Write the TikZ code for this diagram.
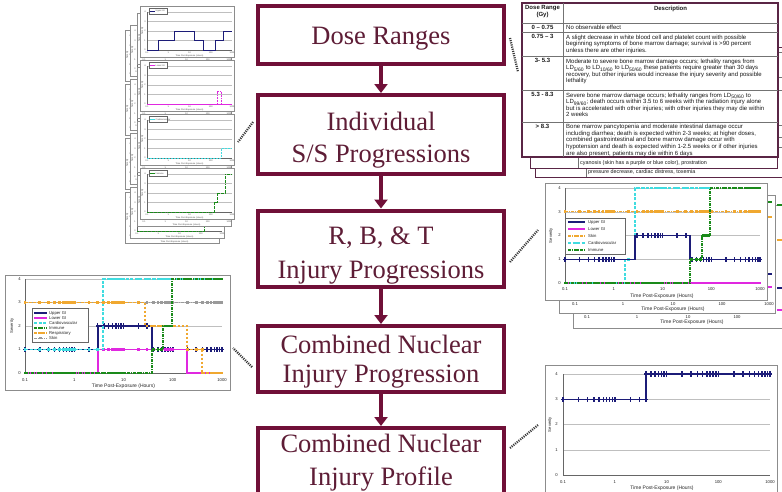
\documentclass[tikz,border=0pt]{standalone}
\usepackage{fontspec}
\setmainfont{Liberation Serif}
\setsansfont{Liberation Sans}
\usetikzlibrary{arrows.meta}

\definecolor{mar}{HTML}{701038}
\definecolor{martext}{HTML}{5E1D36}
\definecolor{tbl}{HTML}{5A2545}
\definecolor{cnavy}{HTML}{1C1C78}
\definecolor{cmag}{HTML}{E028E0}
\definecolor{ccyan}{HTML}{40DCE0}
\definecolor{cgreen}{HTML}{1A8A1A}
\definecolor{corange}{HTML}{F0A830}
\definecolor{cgray}{HTML}{9A9A9A}
\definecolor{dots}{HTML}{3A3A3A}

\def\mkw{1.4}\def\mkh{1.4}
% markers at log-spaced data points: #1 colour, #2 x0, #3 decade width, #4 from, #5 to, #6 y
\newcommand\mk[6]{%
  \foreach \lk in {0,0.301,0.477,0.602,0.699,0.778,0.845,0.903,0.954,
                   1,1.301,1.477,1.602,1.699,1.778,1.845,1.903,1.954,
                   2,2.301,2.477,2.602,2.699,2.778,2.845,2.903,2.954,
                   3,3.301,3.477,3.602,3.699,3.778,3.845,3.903,3.954,4}{%
      \pgfmathsetmacro\xpos{#2+#3*\lk}%
      \pgfmathtruncatemacro\okk{(\xpos>#4-0.5)&&(\xpos<#5+0.5)}%
      \ifnum\okk=1\relax
        \fill[#1] (\xpos-\mkw,#6-\mkh) rectangle (\xpos+\mkw,#6+\mkh);%
      \fi}}
% navy "+"-like markers
\newcommand\mkn[6]{\def\mkw{0.75}\def\mkh{2.6}\mk{#1}{#2}{#3}{#4}{#5}{#6}%
  \def\mkw{1.9}\def\mkh{0.75}\mk{#1}{#2}{#3}{#4}{#5}{#6}\def\mkw{1.4}\def\mkh{1.4}}

% small chart panel of the top-left stack
\newcommand\mpanel[5]{%
  \begin{scope}[shift={(#1,{#2})}]
    \draw[chframe] (0,0) rectangle (94,51);
    \foreach \v in {6,15.5,25,34.5} \draw[gridl] (7,\v) -- (92,\v);
    \draw[axln] (7,6) -- (7,44) -- (92,44);
    \foreach \v/\lb in {44/0,34.5/1,25/2,15.5/3,6/4} \node[micro,anchor=east] at (5.8,\v) {\lb};
    \foreach \lb [count=\i from 0] in {0.1,1,10,100,1000} \node[micro] at ({7+21.25*\i},47) {\lb};
    \node[micro] at (49.5,49.6) {Time Post-Exposure (Hours)};
    \node[micro,rotate=90] at (2.2,25) {Severity};
    #3
    \draw[black!60,line width=0.3pt,fill=white] (9,2.5) rectangle (27,8);
    \draw[#4,line width=0.8pt] (10,5.25) -- (15,5.25);
    \node[micro,anchor=west] at (15.5,5.25) {#5};
  \end{scope}}
\newcommand\serA{\draw[cnavy,line width=0.8pt] (7,44) -- (18,44) -- (18,34.5) -- (34,34.5) -- (34,25) -- (54,25) -- (54,34.5) -- (63,34.5) -- (63,44) -- (75,44) -- (75,34.5) -- (83,34.5) -- (83,25) -- (92,25);}
\newcommand\serB{\draw[cmag,line width=0.8pt] (7,44) -- (92,44); \draw[cmag,line width=0.6pt,dash pattern=on 1pt off 0.6pt] (77,44) -- (77,31) -- (81,31) -- (81,44);}
\newcommand\serC{\draw[ccyan,line width=0.8pt,dash pattern=on 2pt off 1pt] (7,44) -- (81,44) -- (81,34.5) -- (92,34.5);}
\newcommand\serD{\draw[cgreen,line width=0.8pt,dash pattern=on 2pt off 0.7pt on 0.7pt off 0.7pt] (7,44) -- (74,44) -- (74,34.5) -- (77,34.5) -- (77,25) -- (85,25) -- (85,6) -- (92,6);}
\newcommand\mlayer[2]{%
  \mpanel{#1}{#2+6}{\serA}{cnavy}{Upper GI}%
  \mpanel{#1}{#2+60}{\serB}{cmag}{Lower GI}%
  \mpanel{#1}{#2+114}{\serC}{ccyan}{Cardiovascular}%
  \mpanel{#1}{#2+168}{\serD}{cgreen}{Immune}}

\begin{document}
\begin{tikzpicture}[x=1pt,y=-1pt,
  mainbox/.style={draw=mar,line width=4pt,fill=white,minimum width=246pt,inner sep=0pt,outer sep=0pt},
  boxline/.style={font=\fontsize{26.5}{30}\selectfont,text=martext,anchor=base,inner sep=0pt},
  flow/.style={draw=mar,line width=4pt,-{Triangle[width=13pt,length=9pt]},shorten >=2pt},
  dotlink/.style={draw=dots,line width=2.2pt,dash pattern=on 1.1pt off 1.1pt},
  chframe/.style={draw=black!45,line width=0.5pt,fill=white},
  gridl/.style={draw=black!25,line width=0.35pt},
  axln/.style={draw=black!60,line width=0.4pt},
  tklab/.style={font=\sffamily\fontsize{4.2}{4.2}\selectfont,text=black!85,inner sep=0pt},
  ttl/.style={font=\sffamily\fontsize{5}{5}\selectfont,text=black!85,inner sep=0pt},
  micro/.style={font=\sffamily\fontsize{2.2}{2.4}\selectfont,text=black!70,inner sep=0pt},
  lg/.style={font=\sffamily\fontsize{4.2}{4.2}\selectfont,text=black!85,inner sep=0pt,anchor=west},
  sUp/.style={draw=cnavy,line width=1.2pt},
  sLo/.style={draw=cmag,line width=1.1pt},
  sCa/.style={draw=ccyan,line width=1.1pt,dash pattern=on 3pt off 1.5pt},
  sIm/.style={draw=cgreen,line width=1.1pt,dash pattern=on 3pt off 1pt on 1pt off 1pt},
  sRe/.style={draw=corange,line width=1.1pt,dash pattern=on 2.5pt off 1.5pt},
  sSk/.style={draw=cgray,line width=0.9pt,dash pattern=on 3pt off 1pt on 1pt off 1pt},
  sSkO/.style={draw=corange,line width=1.1pt,dash pattern=on 3pt off 1pt on 1pt off 1pt},
  sheet/.style={draw=tbl,line width=0.9pt,fill=white},
  tin/.style={draw=black!55,line width=0.5pt},
  tb/.style={font=\sffamily\fontsize{6}{6.6}\selectfont,inner sep=0pt,text=black!90},
  tbb/.style={tb,font=\sffamily\bfseries\fontsize{6}{6.6}\selectfont},
]
\path[use as bounding box] (0,0) rectangle (782,491);
\clip (0,0) rectangle (782,491);
\fill[white] (0,0) rectangle (782,491);

%% ---------------- top-left stack of small charts
\mlayer{125}{24}
\mlayer{130}{19}
\mlayer{137}{7}
\mlayer{140}{0}

%% ---------------- bottom-left chart
\draw[chframe] (5,275) rectangle (230,390);
\foreach \v in {1,...,4} \draw[gridl] (25,{373-23.5*\v}) -- (222,{373-23.5*\v});
\draw[axln] (25,279) -- (25,373) -- (222,373);
\foreach \v in {0,...,4} \node[tklab,anchor=east] (Ly\v) at (21,{373-23.5*\v}) {\v};
\foreach \lb [count=\i from 0] in {0.1,1,10,100,1000} \node[tklab] (Lx\i) at ({25+49.25*\i},380) {\lb};
\node[ttl] (Ltitle) at (123.5,386.5) {Time Post-Exposure (Hours)};
\node[tklab,rotate=90] (Lsev) at (12,326) {Severity};
\draw[sSk] (25,302.5) -- (222,302.5); \mk{cgray}{25}{49.25}{25}{222}{302.5}
\draw[sUp] (25,349.5) -- (98,349.5) -- (98,326) -- (152,326) -- (152,349.5) -- (222,349.5);
\mkn{cnavy}{25}{49.25}{25}{98}{349.5}\mkn{cnavy}{25}{49.25}{98}{152}{326}\mkn{cnavy}{25}{49.25}{152}{222}{349.5}
\draw[sLo] (25,373) -- (98,373) -- (98,349.5) -- (187,349.5) -- (187,373) -- (222,373);
\mk{cmag}{25}{49.25}{25}{98}{373}\mk{cmag}{25}{49.25}{98}{187}{349.5}\mk{cmag}{25}{49.25}{187}{222}{373}
\draw[sCa] (25,349.5) -- (103,349.5) -- (103,279) -- (222,279);
\mk{ccyan}{25}{49.25}{25}{103}{349.5}\mk{ccyan}{25}{49.25}{103}{222}{279}
\draw[sRe] (25,302.5) -- (145,302.5) -- (145,326) -- (187,326) -- (187,349.5) -- (202,349.5) -- (202,373) -- (222,373);
\mk{corange}{25}{49.25}{25}{145}{302.5}\mk{corange}{25}{49.25}{145}{187}{326}\mk{corange}{25}{49.25}{187}{202}{349.5}\mk{corange}{25}{49.25}{202}{222}{373}
\draw[sIm] (25,373) -- (152,373) -- (152,349.5) -- (163,349.5) -- (163,326) -- (172,326) -- (172,279) -- (222,279);
\mk{cgreen}{25}{49.25}{25}{152}{373}\mk{cgreen}{25}{49.25}{152}{163}{349.5}\mk{cgreen}{25}{49.25}{163}{172}{326}\mk{cgreen}{25}{49.25}{172}{222}{279}
\draw[black!60,line width=0.4pt,fill=white] (32,308) rectangle (88,342);
\foreach \yy/\st/\cc/\tx in {313/sUp/cnavy/Upper GI,318/sLo/cmag/Lower GI,323/sCa/ccyan/Cardiovascular,328/sIm/cgreen/Immune,333/sRe/corange/Respiratory,338/sSk/cgray/Skin}{
  \draw[\st] (34,\yy) -- (47,\yy);
  \fill[\cc] (39.4,\yy-1.1) rectangle (41.6,\yy+1.1);
  \node[lg] at (49,\yy) {\tx};}

%% ---------------- right-middle charts
\draw[chframe] (573,205) rectangle (800,328);
\foreach \xx/\lb in {587/0.1,637/1,688/10,737/100} \node[tklab] at (\xx,317) {\lb};
\node[ttl] (Ctitle) at (692,322.5) {Time Post-Exposure (Hours)};
\draw[cgreen,line width=1.6pt] (777,205) -- (782,205);
\draw[corange,line width=1.6pt] (777,240) -- (782,240);
\draw[cnavy,line width=1.6pt] (777,288) -- (782,288);
\draw[cmag,line width=1.6pt] (777,310) -- (782,310);
\draw[chframe] (559,195) rectangle (775,313);
\foreach \xx/\lb in {575/0.1,623/1,673/10,722/100,769/1000} \node[tklab] at (\xx,304) {\lb};
\node[ttl] (Btitle) at (673,309.5) {Time Post-Exposure (Hours)};
\draw[cgreen,line width=1.6pt] (767,202) -- (772,202);
\draw[corange,line width=1.6pt] (767,217) -- (772,217);
\draw[cnavy,line width=1.6pt] (767,274) -- (772,274);
\draw[cmag,line width=1.6pt] (767,287) -- (772,287);
\draw[chframe] (545,183) rectangle (767,300);
\foreach \v in {1,...,4} \draw[gridl] (565,{283-23.75*\v}) -- (760,{283-23.75*\v});
\draw[axln] (565,188) -- (565,283) -- (760,283);
\foreach \v in {0,...,4} \node[tklab,anchor=east] (Ry\v) at (561,{283-23.75*\v}) {\v};
\foreach \lb [count=\i from 0] in {0.1,1,10,100,1000} \node[tklab] (Rx\i) at ({565+48.75*\i},289.5) {\lb};
\node[ttl] (Rtitle) at (662,296) {Time Post-Exposure (Hours)};
\node[tklab,rotate=90] (Rsev) at (551,235.5) {Severity};
\draw[sSkO] (565,211.75) -- (760,211.75); \mk{corange}{565}{48.75}{565}{760}{211.75}
\draw[sLo] (565,283) -- (760,283); \mk{cmag}{565}{48.75}{565}{760}{283}
\draw[sCa] (565,283) -- (625,283) -- (625,259.25) -- (635,259.25) -- (635,188) -- (710,188);
\mk{ccyan}{565}{48.75}{625}{635}{259.25}\mk{ccyan}{565}{48.75}{635}{710}{188}
\draw[sUp] (565,259.25) -- (635,259.25) -- (635,235.5) -- (690,235.5) -- (690,259.25) -- (760,259.25);
\mkn{cnavy}{565}{48.75}{565}{625}{259.25}\mkn{cnavy}{565}{48.75}{635}{690}{235.5}\mkn{cnavy}{565}{48.75}{690}{760}{259.25}
\draw[sIm] (565,283) -- (690,283) -- (690,259.25) -- (702,259.25) -- (702,235.5) -- (710,235.5) -- (710,188) -- (760,188);
\mk{cgreen}{565}{48.75}{565}{690}{283}\mk{cgreen}{565}{48.75}{690}{702}{259.25}\mk{cgreen}{565}{48.75}{702}{710}{235.5}\mk{cgreen}{565}{48.75}{710}{760}{188}
\draw[black!60,line width=0.4pt,fill=white] (565,218) rectangle (625,254);
\foreach \yy/\st/\cc/\tx in {222/sUp/cnavy/Upper GI,229/sLo/cmag/Lower GI,236/sSkO/corange/Skin,243/sCa/ccyan/Cardiovascular,250/sIm/cgreen/Immune}{
  \draw[\st] (568,\yy) -- (585,\yy);
  \fill[\cc] (575.4,\yy-1.1) rectangle (577.6,\yy+1.1);
  \node[lg] at (588,\yy) {\tx};}

%% ---------------- bottom-right chart
\draw[chframe] (545,365) rectangle (777,500);
\foreach \v in {1,...,4} \draw[gridl] (563,{475-25.25*\v}) -- (770,{475-25.25*\v});
\draw[axln] (563,374) -- (563,475) -- (770,475);
\foreach \v in {0,...,4} \node[tklab,anchor=east] (My\v) at (558,{475-25.25*\v}) {\v};
\foreach \lb [count=\i from 0] in {0.1,1,10,100,1000} \node[tklab] (Mx\i) at ({563+51.75*\i},482) {\lb};
\node[ttl] (Mtitle) at (662,488) {Time Post-Exposure (Hours)};
\node[tklab,rotate=90] (Msev) at (550,424.5) {Severity};
\draw[sUp] (563,399.25) -- (646,399.25) -- (646,374) -- (770,374);
\mkn{cnavy}{563}{51.75}{563}{646}{399.25}\mkn{cnavy}{563}{51.75}{646}{770}{374}

%% ---------------- dose-range table stack
\draw[sheet] (535,47) rectangle (800,177);
\draw[tin] (586,160) -- (586,177);
\node[tb,anchor=base west,font=\sffamily\fontsize{5.4}{6}\selectfont] (bk2) at (588,173.5) {pressure decrease, cardiac distress, toxemia};
\foreach \yy in {52,77,90,125,137,147} \draw[tin] (778,\yy) -- (782,\yy);
\draw[sheet] (530,42) rectangle (777,168);
\draw[tin] (578,157) -- (578,168);
\node[tb,anchor=base west,font=\sffamily\fontsize{5.4}{6}\selectfont] (bk1) at (580,164.5) {cyanosis (skin has a purple or blue color), prostration};
\draw[sheet,line width=1.1pt] (522,3) rectangle (778,157);
\draw[tin] (563,3) -- (563,157);
\foreach \yy in {23,32,56,90,122} \draw[tin] (522,\yy) -- (778,\yy);
\node[tbb,align=center,anchor=north] (h1) at (542.5,5.5) {Dose Range\\(Gy)};
\node[tbb,anchor=north] (h2) at (670.5,5.5) {Description};
\node[tbb,anchor=north] (r1) at (542.5,25.2) {0 – 0.75};
\node[tbb,anchor=north] (r2) at (542.5,34.5) {0.75 – 3};
\node[tbb,anchor=north] (r3) at (542.5,58.5) {3- 5.3};
\node[tbb,anchor=north] (r4) at (542.5,92.5) {5.3 - 8.3};
\node[tbb,anchor=north] (r5) at (542.5,124.2) {> 8.3};
\node[tb,anchor=north west,align=left] (d1) at (566,25.2) {No observable effect};
\node[tb,anchor=north west,align=left] (d2) at (566,34.5) {A slight decrease in white blood cell and platelet count with possible\\beginning symptoms of bone marrow damage; survival is >90 percent\\unless there are other injuries.};
\node[tb,anchor=north west,align=left] (d3) at (566,58.5) {Moderate to severe bone marrow damage occurs; lethality ranges from\\LD\textsubscript{5/60} to LD\textsubscript{10/60} to LD\textsubscript{50/60} these patients require greater than 30 days\\recovery, but other injuries would increase the injury severity and possible\\lethality};
\node[tb,anchor=north west,align=left] (d4) at (566,92.5) {Severe bone marrow damage occurs; lethality ranges from LD\textsubscript{50/60} to\\LD\textsubscript{99/60}; death occurs within 3.5 to 6 weeks with the radiation injury alone\\but is accelerated with other injuries; with other injuries they may die within\\2 weeks};
\node[tb,anchor=north west,align=left] (d5) at (566,124.2) {Bone marrow pancytopenia and moderate intestinal damage occur\\including diarrhea; death is expected within 2-3 weeks; at higher doses,\\combined gastrointestinal and bone marrow damage occur with\\hypotension and death is expected within 1-2.5 weeks or if other injuries\\are also present, patients may die within 6 days};

%% ---------------- main flow
\node[mainbox,minimum height=58pt] (b1) at (381,35) {};
\node[mainbox,minimum height=79pt] (b2) at (381,134.5) {};
\node[mainbox,minimum height=76.5pt] (b3) at (381,248.75) {};
\node[mainbox,minimum height=66pt] (b4) at (381,359) {};
\node[mainbox,minimum height=82pt] (b5) at (381,469) {};
\node[boxline] (t1) at (381,44) {Dose Ranges};
\node[boxline] (t2a) at (381,130) {Individual};
\node[boxline] (t2b) at (381,162) {S/S Progressions};
\node[boxline] (t3a) at (381,244) {R, B, \& T};
\node[boxline] (t3b) at (381,278) {Injury Progressions};
\node[boxline] (t4a) at (381,353) {Combined Nuclear};
\node[boxline] (t4b) at (381,382) {Injury Progression};
\node[boxline] (t5a) at (381,452) {Combined Nuclear};
\node[boxline] (t5b) at (381,485) {Injury Profile};
\draw[flow] (b1.south) -- (b2.north);
\draw[flow] (b2.south) -- (b3.north);
\draw[flow] (b3.south) -- (b4.north);
\draw[flow] (b4.south) -- (b5.north);

%% ---------------- dotted links
\coordinate (d1a) at (510,38);  \coordinate (d1b) at (518,72);
\coordinate (d2a) at (253,122); \coordinate (d2b) at (238,142);
\coordinate (d3a) at (510,262); \coordinate (d3b) at (538,230);
\coordinate (d4a) at (252,367); \coordinate (d4b) at (233,348);
\coordinate (d5a) at (510,448); \coordinate (d5b) at (538,425);
\draw[dotlink] (d1a) -- (d1b);
\draw[dotlink] (d2a) -- (d2b);
\draw[dotlink] (d3a) -- (d3b);
\draw[dotlink] (d4a) -- (d4b);
\draw[dotlink] (d5a) -- (d5b);
\end{tikzpicture}
\end{document}
